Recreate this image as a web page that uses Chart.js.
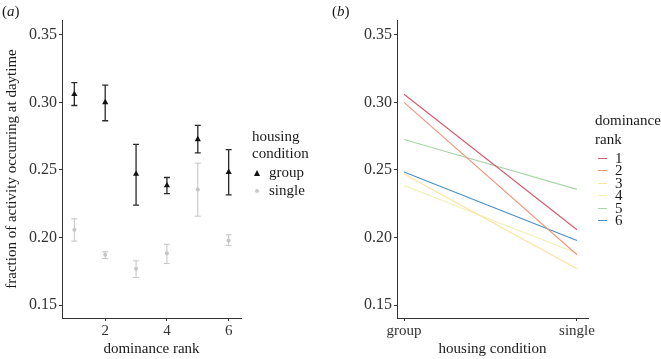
<!DOCTYPE html>
<html>
<head>
<meta charset="utf-8">
<script src="https://cdn.jsdelivr.net/npm/chart.js@4.4.0/dist/chart.umd.min.js"></script>
<style>
  body { margin: 0; background: #fff; }
  #wrap { position: relative; width: 661px; height: 359px; font-family: "Liberation Serif", serif; color: #1a1a1a; }
  #wrap canvas { position: absolute; top: 0; }
  .lbl { position: absolute; font-size: 15px; line-height: 17px; white-space: nowrap; }
  .tri { position: absolute; width: 0; height: 0; border-left: 3.5px solid transparent; border-right: 3.5px solid transparent; border-bottom: 6px solid #111; }
  .dot { position: absolute; width: 4px; height: 4px; border-radius: 2px; background: #c8c8c8; }
  .dash { position: absolute; width: 9px; height: 1px; }
  .num { position: absolute; font-size: 15px; line-height: 12px; }
</style>
</head>
<body>
<div id="wrap">
  <canvas id="left" width="330" height="359" style="left:0"></canvas>
  <canvas id="right" width="331" height="359" style="left:330px"></canvas>

  <div class="lbl" style="left:2px; top:3px;">(<i>a</i>)</div>
  <div class="lbl" style="left:332px; top:3px;">(<i>b</i>)</div>

  <div class="lbl" style="left:252px; top:128px;">housing</div>
  <div class="lbl" style="left:252px; top:145px;">condition</div>
  <div class="tri" style="left:254px; top:170px;"></div>
  <div class="lbl" style="left:269px; top:164px;">group</div>
  <div class="dot" style="left:255px; top:189px;"></div>
  <div class="lbl" style="left:269px; top:182px;">single</div>

  <div class="lbl" style="left:595px; top:112px;">dominance</div>
  <div class="lbl" style="left:595px; top:131px;">rank</div>
  <div id="rankLegend"></div>
</div>

<script>
// dominance ranks and per-rank fraction of activity at daytime
const ranks = [1, 2, 3, 4, 5, 6];

const groupMean = [0.306, 0.300, 0.247, 0.2385, 0.2726, 0.2484];
const groupHi   = [0.3146, 0.3128, 0.2689, 0.2444, 0.2830, 0.2650];
const groupLo   = [0.2977, 0.2864, 0.2239, 0.2324, 0.2627, 0.2316];

const singleMean = [0.2057, 0.1872, 0.1768, 0.1884, 0.2356, 0.1978];
const singleHi   = [0.2138, 0.1894, 0.1827, 0.1950, 0.2550, 0.2020];
const singleLo   = [0.1973, 0.1844, 0.1704, 0.1807, 0.2158, 0.1940];

const yTicks = [0.15, 0.20, 0.25, 0.30, 0.35];
const rankTicks = [2, 4, 6];
const housingLabels = ["group", "single"];
const rankColors = ["#d65a6e", "#f39579", "#fbe3a0", "#f1efb4", "#a9d6a6", "#4a8fc6"];

const FONT = { family: "'Liberation Serif', serif", size: 15 };
const TICKFONT = { family: "'Liberation Serif', serif", size: 16 };
const AXIS = "#333";

// error bars drawn from each dataset's lo/hi arrays
const errorBars = {
  id: "errorBars",
  beforeDatasetsDraw(chart) {
    const ctx = chart.ctx;
    const xs = chart.scales.x, ys = chart.scales.y;
    chart.data.datasets.forEach(ds => {
      if (!ds.errLo) return;
      ctx.save();
      ctx.strokeStyle = ds.errColor;
      ctx.lineWidth = ds.errWidth;
      ds.data.forEach((p, i) => {
        const x = xs.getPixelForValue(p.x);
        const yl = ys.getPixelForValue(ds.errLo[i]);
        const yh = ys.getPixelForValue(ds.errHi[i]);
        ctx.beginPath();
        ctx.moveTo(x, yl); ctx.lineTo(x, yh);
        ctx.moveTo(x - 3, yl); ctx.lineTo(x + 3, yl);
        ctx.moveTo(x - 3, yh); ctx.lineTo(x + 3, yh);
        ctx.stroke();
      });
      ctx.restore();
    });
  }
};

function yScale(width, title) {
  return {
    min: 0.1404, max: 0.361,
    afterBuildTicks: a => { a.ticks = yTicks.map(v => ({ value: v })); },
    afterFit: a => { a.width = width; },
    ticks: { font: TICKFONT, color: AXIS, padding: 2, callback: v => v.toFixed(2) },
    grid: { drawOnChartArea: false, tickLength: 3, color: AXIS },
    border: { color: AXIS, width: 1 },
    title: title ? { display: true, text: title, font: FONT, color: "#1a1a1a", padding: { top: 3, bottom: 0 } } : { display: false }
  };
}

function xScale(min, max, ticks, fmt, title) {
  return {
    type: "linear", min: min, max: max,
    afterBuildTicks: a => { a.ticks = ticks.map(v => ({ value: v })); },
    afterFit: a => { a.height = 41; },
    ticks: { font: FONT, color: AXIS, padding: 1, maxRotation: 0, callback: fmt },
    grid: { drawOnChartArea: false, tickLength: 3, color: AXIS },
    border: { color: AXIS, width: 1 },
    title: { display: true, text: title, font: FONT, color: "#1a1a1a", padding: { top: 0, bottom: 1 } }
  };
}

new Chart(document.getElementById("left"), {
  type: "scatter",
  data: {
    datasets: [
      {
        label: "group",
        data: ranks.map((r, i) => ({ x: r, y: groupMean[i] })),
        pointStyle: "triangle", pointRadius: 3.6,
        backgroundColor: "#111", borderColor: "#111", borderWidth: 0,
        errLo: groupLo, errHi: groupHi, errColor: "#2a2a2a", errWidth: 1.3
      },
      {
        label: "single",
        data: ranks.map((r, i) => ({ x: r, y: singleMean[i] })),
        pointStyle: "circle", pointRadius: 2,
        backgroundColor: "#c6c6c6", borderColor: "#c6c6c6", borderWidth: 0,
        errLo: singleLo, errHi: singleHi, errColor: "#c4c4c4", errWidth: 1
      }
    ]
  },
  options: {
    responsive: false, animation: false, devicePixelRatio: 1,
    layout: { padding: { top: 20, right: 89, left: 0, bottom: 0 } },
    plugins: { legend: { display: false }, tooltip: { enabled: false } },
    scales: {
      x: xScale(0.6, 6.4, rankTicks, v => String(v), "dominance rank"),
      y: yScale(62, "fraction of activity occurring at daytime")
    }
  },
  plugins: [errorBars]
});

new Chart(document.getElementById("right"), {
  type: "line",
  data: {
    datasets: ranks.map((r, i) => ({
      label: String(r),
      data: [{ x: 0, y: groupMean[i] }, { x: 1, y: singleMean[i] }],
      borderColor: rankColors[i], borderWidth: 1.1, pointRadius: 0, fill: false
    }))
  },
  options: {
    responsive: false, animation: false, devicePixelRatio: 1,
    layout: { padding: { top: 20, right: 73, left: 0, bottom: 0 } },
    plugins: { legend: { display: false }, tooltip: { enabled: false } },
    scales: {
      x: xScale(-0.0405, 1.0637, [0, 1], v => housingLabels[v], "housing condition"),
      y: yScale(67, null)
    }
  }
});

// rank legend: short coloured dash and the rank number
const legendBox = document.getElementById("rankLegend");
ranks.forEach((r, i) => {
  const y = 158 + i * 12.4;
  const dash = document.createElement("div");
  dash.className = "dash";
  dash.style.left = "598px";
  dash.style.top = Math.round(y) + "px";
  dash.style.background = rankColors[i];
  legendBox.appendChild(dash);
  const num = document.createElement("div");
  num.className = "num";
  num.style.left = "615px";
  num.style.top = Math.round(y - 6) + "px";
  num.textContent = r;
  legendBox.appendChild(num);
});
</script>
</body>
</html>
